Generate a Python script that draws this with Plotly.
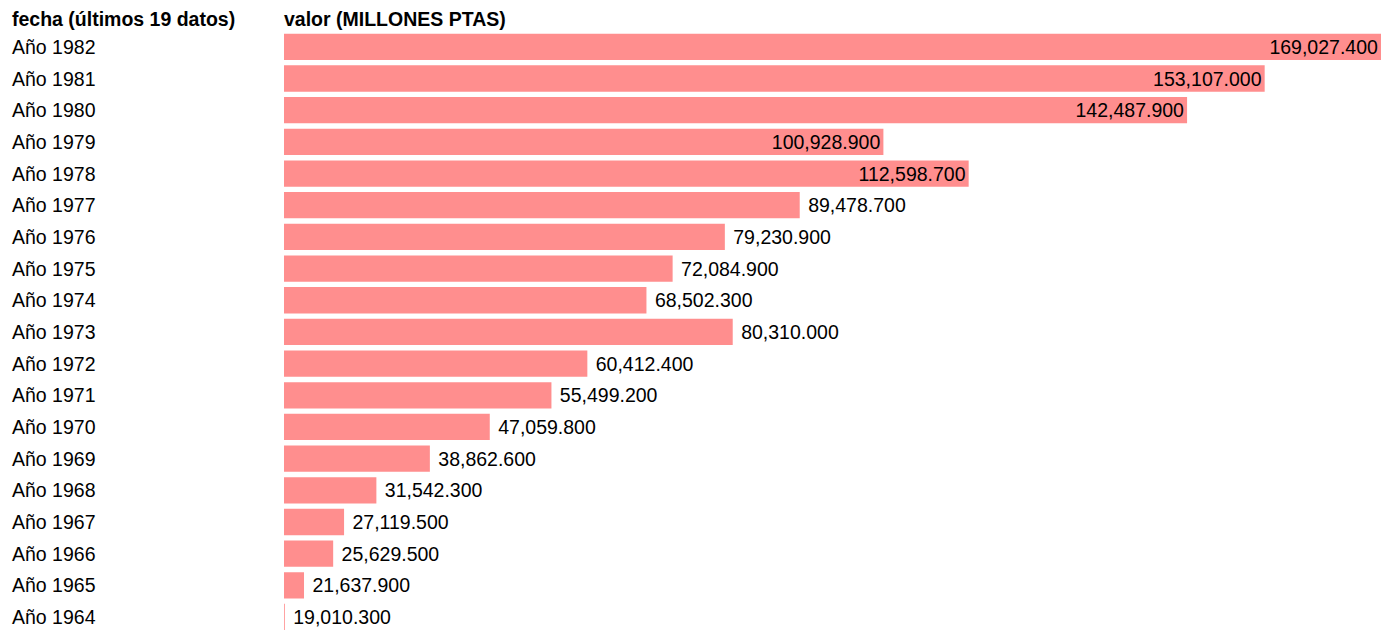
import plotly.graph_objects as go

# Data
categories = ["Año 1982", "Año 1981", "Año 1980", "Año 1979", "Año 1978", "Año 1977",
              "Año 1976", "Año 1975", "Año 1974", "Año 1973", "Año 1972", "Año 1971",
              "Año 1970", "Año 1969", "Año 1968", "Año 1967", "Año 1966", "Año 1965",
              "Año 1964"]
values = [169027.4, 153107.0, 142487.9, 100928.9, 112598.7, 89478.7,
          79230.9, 72084.9, 68502.3, 80310.0, 60412.4, 55499.2,
          47059.8, 38862.6, 31542.3, 27119.5, 25629.5, 21637.9,
          19010.3]
header_left = "fecha (últimos 19 datos)"
header_right = "valor (MILLONES PTAS)"

FONT = "Liberation Sans, Arial, sans-serif"
FS = 19.5
BAR_COLOR = "rgb(255,142,142)"

positions = ["inside" if v >= 100000 else "outside" for v in values]

fig = go.Figure()
fig.add_trace(go.Bar(
    x=values,
    y=categories,
    orientation="h",
    marker=dict(color=BAR_COLOR, line=dict(width=0)),
    texttemplate="\u00a0%{x:,.3f}",
    textposition=positions,
    insidetextanchor="end",
    textfont=dict(family=FONT, size=FS, color="black"),
    constraintext="none",
    cliponaxis=False,
    hoverinfo="skip",
))

annotations = []
for c in categories:
    annotations.append(dict(
        text=c, xref="paper", x=0, xshift=-274, xanchor="left",
        yref="y", y=c, yanchor="middle", showarrow=False,
        font=dict(family=FONT, size=FS, color="black"),
    ))
annotations.append(dict(
    text="<b>" + header_left + "</b>", xref="paper", x=0, xshift=-274, xanchor="left",
    yref="paper", y=1, yanchor="bottom", yshift=-1, showarrow=False,
    font=dict(family=FONT, size=FS, color="black"),
))
annotations.append(dict(
    text="<b>" + header_right + "</b>", xref="paper", x=0, xshift=-2, xanchor="left",
    yref="paper", y=1, yanchor="bottom", yshift=-1, showarrow=False,
    font=dict(family=FONT, size=FS, color="black"),
))

fig.update_layout(
    width=1393, height=630,
    margin=dict(l=284, r=12, t=31, b=0, pad=0),
    paper_bgcolor="white", plot_bgcolor="white",
    bargap=0.17,
    showlegend=False,
    xaxis=dict(range=[18900, max(values)], showgrid=False, zeroline=False,
               showticklabels=False, ticks="", showline=False),
    yaxis=dict(type="category", range=[18.41, -0.5], showgrid=False, zeroline=False,
               showticklabels=False, ticks="", showline=False),
    annotations=annotations,
    font=dict(family=FONT, size=FS, color="black"),
)

fig.write_html(
    "out.html",
    config={"displayModeBar": False},
    post_script="document.body.style.margin='0';document.body.style.padding='0';"
                "document.body.style.overflow='hidden';",
)
